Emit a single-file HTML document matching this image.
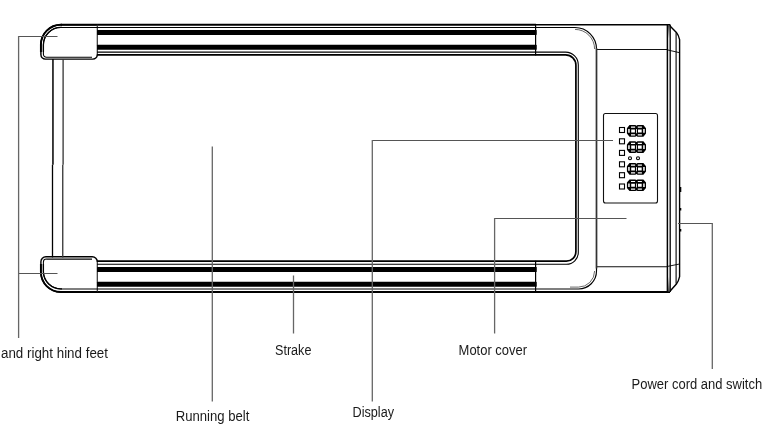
<!DOCTYPE html>
<html><head><meta charset="utf-8">
<style>
html,body{margin:0;padding:0;background:#fff;}
body{width:778px;height:427px;overflow:hidden;}
svg{display:block;will-change:transform;}
text{font-family:"Liberation Sans",sans-serif;font-size:14px;fill:#1a1a1a;}
</style></head><body>
<svg width="778" height="427" viewBox="0 0 778 427">
<defs><linearGradient id="gt" x1="0" y1="0" x2="0" y2="1"><stop offset="0" stop-color="#444"/><stop offset="1" stop-color="#444" stop-opacity="0"/></linearGradient><linearGradient id="gb" x1="0" y1="1" x2="0" y2="0"><stop offset="0" stop-color="#444"/><stop offset="1" stop-color="#444" stop-opacity="0"/></linearGradient></defs>
<g fill="none" stroke="#000" stroke-linecap="butt">
<path d="M60.8,24.8 H536" stroke-width="2"/>
<path d="M536,24.75 H670" stroke-width="1.5"/>
<path d="M60.8,292.05 H670" stroke-width="1.9"/>
<path d="M97.6,24.8 H60.8 A20,20 0 0 0 40.9,44.8 V54.6 A4.5,4.5 0 0 0 45.4,59.1 H92.8 A4.5,4.5 0 0 0 97.3,54.6" stroke-width="1.45"/>
<path d="M62,24.8 H60.8 A20,20 0 0 0 40.9,44.8 V52" stroke-width="1.9"/>
<path d="M97.3,55.5 V24.8 M97.3,260.8 V292" stroke="#333" stroke-width="1.2"/>
<path d="M97.3,27.4 H60.8 A17.5,17.5 0 0 0 43.4,44.8 V54.3 A3,3 0 0 0 46.4,57.3 H92" stroke-width="1.05"/>
<path d="M62,27.4 H60.8 A17.5,17.5 0 0 0 43.4,44.8 V52" stroke-width="1.3"/>
<path d="M97.6,292.05 H60.8 A20,20 0 0 1 40.9,272.05 V261.8 A5,5 0 0 1 45.9,256.8 H92.3 A5,5 0 0 1 97.3,261.8" stroke-width="1.4"/>
<path d="M62,292.05 H60.8 A20,20 0 0 1 40.9,272.05 V264" stroke-width="1.9"/>
<path d="M97.3,288.9 H60.8 A17.5,17.5 0 0 1 43.4,272.05 V262 A3,3 0 0 1 46.4,259.1 H92" stroke-width="1.05"/>
<path d="M62,288.9 H60.8 A17.5,17.5 0 0 1 43.4,272.05 V264" stroke-width="1.3"/>
<path d="M52.95,59 V164.7" stroke-width="1.5" stroke="#000"/>
<path d="M52.5,164.7 V257.4" stroke-width="1.3" stroke="#000"/>
<path d="M63.1,59 V164.7" stroke-width="1.3" stroke="#333"/>
<path d="M62.75,164.7 V257.4" stroke-width="1.3" stroke="#333"/>
<path d="M535.6,24.8 V55.6 M535.6,260.8 V292" stroke-width="1.2"/>
<path d="M97,27.5 H575 A21.5,21.5 0 0 1 596.5,49 V271 A18,18 0 0 1 578.5,289 H97" stroke-width="1.15"/>
<path d="M575,29.4 A19.6,19.6 0 0 1 594.6,49" stroke-width="0.8" stroke="#444"/>
<path d="M594.6,271 A16.1,16.1 0 0 1 578.5,287.1 H570" stroke-width="0.8" stroke="#444"/>
<path d="M97,52.1 H565.6 A12.7,12.7 0 0 1 578.3,64.8 V252.4 A11.9,11.9 0 0 1 566.4,264.3 H97" stroke-width="1.1"/>
<path d="M97,54.8 H565.6 A10.3,10.3 0 0 1 575.9,65.1 V251.6 A9.5,9.5 0 0 1 566.4,261.1 H97" stroke-width="1.7"/>
<path d="M596.5,49.5 H667 M596.5,266.7 H667" stroke-width="1.1" stroke="#111"/>
<path d="M596.5,48 V268.5" stroke-width="1.6" stroke="#333"/>
<path d="M667.4,24.6 V292" stroke-width="1.5"/>
<path d="M670.2,24.6 V292" stroke-width="1.3"/>
<path d="M668.8,24.8 L676.4,32.4 Q678.5,35 679.6,39.6 V276.6 Q678.5,281.4 676.4,284 L669.5,291.8" stroke-width="1.4"/>
<path d="M676.1,32.6 V283.8" stroke-width="1.1"/>
<path d="M667,49.8 L679.6,52.7 M667,266.5 L679.6,264" stroke-width="0.9"/>
<rect x="667.9" y="25.5" width="2" height="13" fill="url(#gt)" stroke="none"/>
<rect x="667.9" y="276.5" width="2" height="15" fill="url(#gb)" stroke="none"/>
<path d="M680.5,187 V192 M680.5,208 V210.5 M680.5,229 V231.5" stroke-width="1.6"/>
</g>
<g fill="#000">
<rect x="97" y="29.9" width="439.7" height="5" rx="0.6"/>
<rect x="97" y="44.8" width="439.7" height="5" rx="0.6"/>
<rect x="97" y="266.9" width="439.7" height="5.1" rx="0.6"/>
<rect x="97" y="281.8" width="439.7" height="5" rx="0.6"/>
</g>
<rect x="603.5" y="113.5" width="54" height="89.5" rx="2" fill="none" stroke="#111" stroke-width="1.1"/>
<defs><path id="d8" fill="#000" fill-rule="evenodd" d="M2.6,0 H8.4 L9.55,0.7 L10.7,0 H16.5 L19.1,3.2 V8.5 L16.5,11.7 H10.7 L9.55,11 L8.4,11.7 H2.6 L0,8.5 V3.2 Z M4.1,1.5 H8.2 V2.7 H4.1 Z M4.1,9.1 H8.2 V10.3 H4.1 Z M1.3,4 H2.8 V7.7 H1.3 Z M4.3,4.3 H8 V7.4 H4.3 Z M9.2,4 H10 V8.2 H9.2 Z M11.1,4.3 H14.8 V7.4 H11.1 Z M16.3,4 H17.8 V7.7 H16.3 Z M10.9,1.5 H15 V2.7 H10.9 Z M10.9,9.1 H15 V10.3 H10.9 Z"/></defs>
<use href="#d8" x="626.9" y="125.1"/>
<use href="#d8" x="626.9" y="141.3"/>
<use href="#d8" x="626.9" y="163.1"/>
<use href="#d8" x="626.9" y="179.4"/>
<g fill="none" stroke="#000" stroke-width="1.1">
<rect x="619.5" y="127.5" width="5" height="5"/>
<rect x="619.5" y="138.8" width="5" height="5"/>
<rect x="619.5" y="150.4" width="5" height="5"/>
<rect x="619.5" y="161.8" width="5" height="5"/>
<rect x="619.5" y="172.7" width="5" height="5"/>
<rect x="619.5" y="184" width="5" height="5"/>
<circle cx="630" cy="158.3" r="1.5"/><circle cx="638" cy="158.3" r="1.5"/>
</g>
<g fill="none" stroke="#555" stroke-width="1">
<path d="M57.5,36.5 H18.5 M18.5,273.5 H57.5 M613,140.5 H372.5 M626.5,218.5 H494.5 M678,223.5 H712.5"/>
</g>
<g fill="none" stroke="#666" stroke-width="1.3">
<path d="M18.6,36 V338"/>
<path d="M212.3,146.5 V401.5"/>
<path d="M293.5,275.5 V333.5"/>
<path d="M372.3,140 V401.5"/>
<path d="M494.6,218 V333.5"/>
<path d="M712.3,223 V369"/>
</g>
<text x="1" y="357.9" textLength="107" lengthAdjust="spacingAndGlyphs">and right hind feet</text>
<text x="275" y="354.7" textLength="36.4" lengthAdjust="spacingAndGlyphs">Strake</text>
<text x="458.6" y="354.5" textLength="68.5" lengthAdjust="spacingAndGlyphs">Motor cover</text>
<text x="631.6" y="389" textLength="130.6" lengthAdjust="spacingAndGlyphs">Power cord and switch</text>
<text x="175.7" y="420.8" textLength="73.6" lengthAdjust="spacingAndGlyphs">Running belt</text>
<text x="352.5" y="417" textLength="41.5" lengthAdjust="spacingAndGlyphs">Display</text>
</svg>
</body></html>
